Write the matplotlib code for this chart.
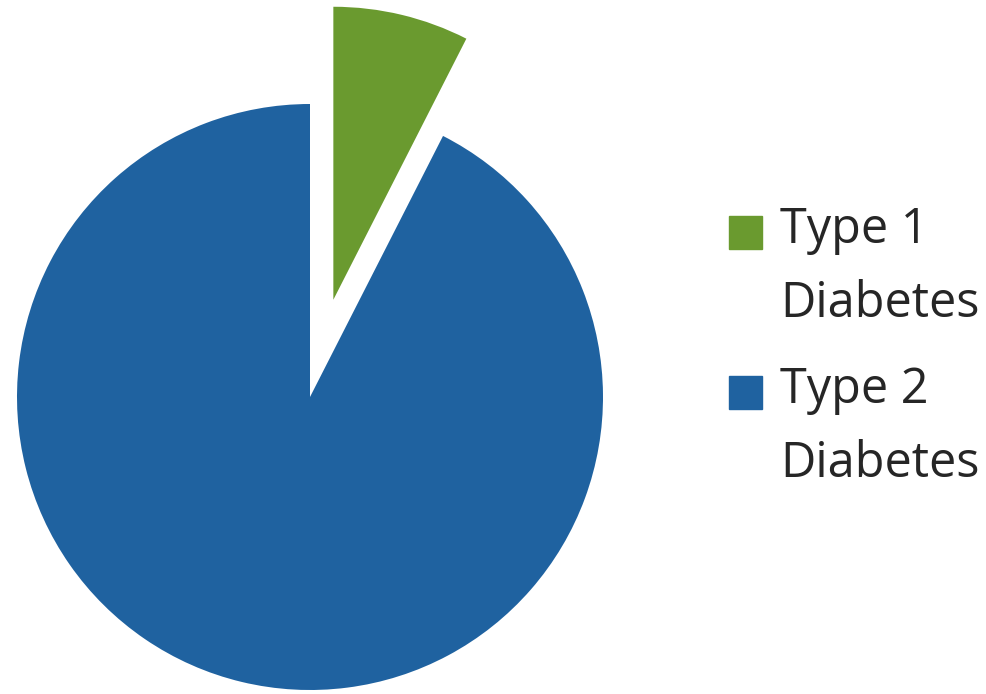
import matplotlib.pyplot as plt
from matplotlib.patches import Rectangle

# Data
labels = ["Type 1\nDiabetes", "Type 2\nDiabetes"]
shares = [7.5, 92.5]
colors = ["#6a9a2f", "#1f62a0"]
explode = [100, 0]  # pie works in pixel units below

W, H = 986, 694
fig = plt.figure(figsize=(W / 100, H / 100), dpi=100)
ax = fig.add_axes([0, 0, 1, 1])

ax.pie(
    shares,
    colors=colors,
    explode=explode,
    startangle=90,
    counterclock=False,
    center=(310, H - 397),
    radius=293,
    wedgeprops={"linewidth": 0},
)
ax.set_xlim(0, W)
ax.set_ylim(0, H)
ax.set_aspect("equal")
ax.axis("off")

# Legend drawn by hand so the square lines up with the first text line
for i, (lab, col) in enumerate(zip(labels, colors)):
    top = 216 + i * 160
    fig.patches.append(Rectangle((729 / W, 1 - (top + 33) / H), 33 / W, 33 / H,
                                 transform=fig.transFigure, color=col))
    for j, line in enumerate(lab.split("\n")):
        base = 243 + i * 160 + j * 74
        fig.text(780 / W, 1 - base / H, line, fontsize=35, family="Open Sans",
                 color="#262626", va="baseline", ha="left")

plt.savefig("out.png", dpi=100)
